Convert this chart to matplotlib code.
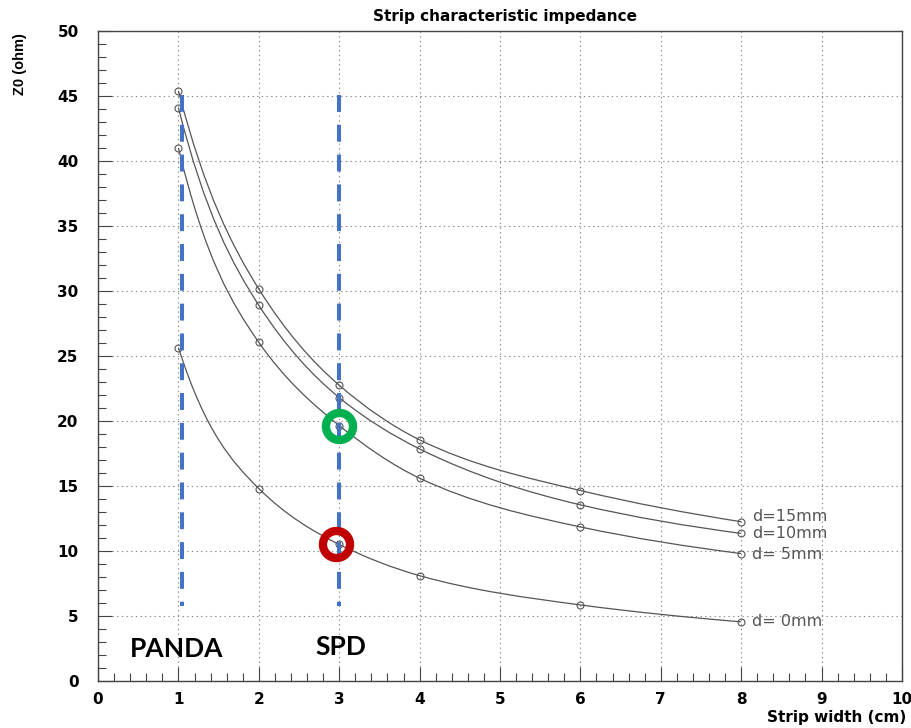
import matplotlib
matplotlib.use("Agg")
import math
import matplotlib.pyplot as plt
from matplotlib.path import Path
from matplotlib.patches import PathPatch
from matplotlib.ticker import MultipleLocator

# strip width (cm) and impedance Z0 (ohm) for each gap d
widths = [1, 2, 3, 4, 6, 8]
z_15mm = [45.4, 30.15, 22.75, 18.55, 14.65, 12.25]
z_10mm = [44.1, 28.9, 21.8, 17.85, 13.55, 11.35]
z_5mm = [41.0, 26.05, 19.65, 15.6, 11.85, 9.8]
z_0mm = [25.65, 14.8, 10.5, 8.1, 5.85, 4.55]
labels = ['d=15mm', 'd=10mm', 'd= 5mm', 'd= 0mm']
label_shift = [0.4, 0.0, -0.1, 0.0]

# detector strip widths and the highlighted working points
panda_x = 1.045
spd_x = 3.0
marker_range = [45.1, 5.75]
spd_5mm = 19.6
spd_0mm = 10.5

gray = '#555555'


def tangents(xs, ys):
    '''dy/dx from a parabola through neighbours in log-log space'''
    lx = [math.log(v) for v in xs]
    ly = [math.log(v) for v in ys]
    n = len(xs)
    m = []
    for i in range(n):
        j = min(max(i, 1), n - 2)
        x0, x1, x2 = lx[j - 1], lx[j], lx[j + 1]
        y0, y1, y2 = ly[j - 1], ly[j], ly[j + 1]
        d01 = (y1 - y0) / (x1 - x0)
        d12 = (y2 - y1) / (x2 - x1)
        d012 = (d12 - d01) / (x2 - x0)
        x = lx[i]
        slope = d01 + d012 * ((x - x0) + (x - x1))
        m.append(slope * ys[i] / xs[i])
    return m


def smooth_path(xs, ys):
    '''cubic hermite curve through the points as bezier segments'''
    m = tangents(xs, ys)
    verts = [(xs[0], ys[0])]
    codes = [Path.MOVETO]
    for i in range(len(xs) - 1):
        h = (xs[i + 1] - xs[i]) / 3
        verts += [(xs[i] + h, ys[i] + h * m[i]),
                  (xs[i + 1] - h, ys[i + 1] - h * m[i + 1]),
                  (xs[i + 1], ys[i + 1])]
        codes += [Path.CURVE4] * 3
    return Path(verts, codes)


fig = plt.figure(figsize=(9.12, 7.28), dpi=100)
ax = fig.add_axes([0.1075, 0.0646, 0.8815, 0.8928])

curves = [z_15mm, z_10mm, z_5mm, z_0mm]
for series, lab, dy in zip(curves, labels, label_shift):
    ax.add_patch(PathPatch(smooth_path(widths, series), fill=False,
                           edgecolor=gray, lw=0.9, zorder=3))
    ax.plot(widths, series, 'o', ms=5, mfc='none', mec=gray, mew=0.8,
            zorder=4)
    ax.text(widths[-1] + 0.13, series[-1] + dy, lab, fontsize=11.5,
            color=gray, va='center', ha='left', family='DejaVu Sans')

for xpos in [panda_x, spd_x]:
    ax.plot([xpos, xpos], marker_range, color='#4472C4', lw=2.9,
            linestyle=(0, (4.2, 3.2)), zorder=5)

ax.plot([spd_x], [spd_5mm], 'o', ms=19.5, mfc='none', mec='#00B050',
        mew=6, zorder=6)
ax.plot([2.96], [spd_0mm], 'o', ms=19.5, mfc='none', mec='#C00000',
        mew=6, zorder=6)

ax.text(0.4, 1.85, 'PANDA', fontsize=19, fontweight='bold', family='Lato')
ax.text(2.7, 2.0, 'SPD', fontsize=19, fontweight='bold', family='Lato')

ax.set_xlim(0, 10)
ax.set_ylim(0, 50)
ax.xaxis.set_major_locator(MultipleLocator(1))
ax.xaxis.set_minor_locator(MultipleLocator(0.2))
ax.yaxis.set_major_locator(MultipleLocator(5))
ax.yaxis.set_minor_locator(MultipleLocator(1))
ax.tick_params(which='both', direction='in', top=False, right=False,
               color='#444444', labelsize=11)
ax.tick_params(axis='y', pad=14)
ax.tick_params(axis='x', pad=8)
ax.tick_params(which='major', length=10, width=0.8)
ax.tick_params(which='minor', length=6, width=0.8)
for lbl in ax.get_xticklabels() + ax.get_yticklabels():
    lbl.set_fontweight('bold')
    lbl.set_family('DejaVu Sans')
ax.grid(True, which='major', linestyle=(0, (1.2, 3)), color='#888888',
        lw=0.8)
for sp in ax.spines.values():
    sp.set_color('#444444')
    sp.set_linewidth(1.0)

fig.text(0.554, 0.978, 'Strip characteristic impedance', ha='center',
         va='center', fontsize=11, fontweight='bold', family='DejaVu Sans')
fig.text(0.022, 0.912, 'Z0 (ohm)', rotation=90, ha='center', va='center',
         fontsize=10.5, fontweight='bold', family='Liberation Sans')
fig.text(0.994, 0.014, 'Strip width (cm)', ha='right', va='center',
         fontsize=11, fontweight='bold', family='DejaVu Sans')

fig.savefig('out.png', dpi=100)
